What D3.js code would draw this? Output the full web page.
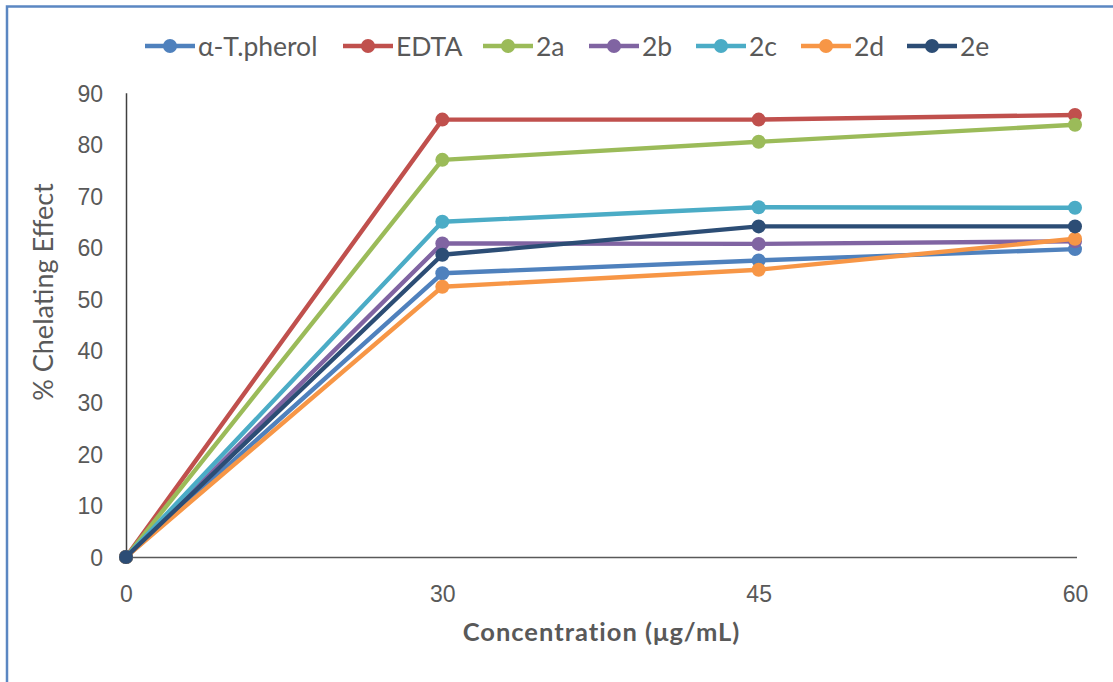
<!DOCTYPE html>
<html>
<head>
<meta charset="utf-8">
<script src="https://cdn.jsdelivr.net/npm/d3@7"></script>
<style>
  html, body { margin: 0; padding: 0; background: #fff; }
  svg { display: block; font-family: Lato, "Open Sans", sans-serif; }
</style>
</head>
<body>
<svg id="chart" width="1113" height="682"></svg>
<script>
// Concentration levels (µg/mL) on a categorical x axis
const concentrations = ["0", "30", "45", "60"];

// % chelating effect for each compound
const seriesNames = ["α-T.pherol", "EDTA", "2a", "2b", "2c", "2d", "2e"];
const alphaToco = [0, 55.0, 57.5, 59.7];
const edta      = [0, 84.8, 84.8, 85.7];
const c2a       = [0, 77.0, 80.5, 83.8];
const c2b       = [0, 60.8, 60.7, 61.2];
const c2c       = [0, 65.0, 67.8, 67.7];
const c2d       = [0, 52.4, 55.7, 61.7];
const c2e       = [0, 58.6, 64.1, 64.1];
const seriesValues = [alphaToco, edta, c2a, c2b, c2c, c2d, c2e];

const yTicks = [0, 10, 20, 30, 40, 50, 60, 70, 80, 90];
const colors = ["#4F81BD", "#C0504D", "#9BBB59", "#8064A2", "#4BACC6", "#F79646", "#2C4D75"];

const svg = d3.select("#chart");
const W = 1113, H = 682;

// outer frame
svg.append("rect")
  .attr("x", 7).attr("y", 6.5)
  .attr("width", W + 10).attr("height", H + 10)
  .attr("fill", "#fff")
  .attr("stroke", "#5B87C2").attr("stroke-width", 2.5);

const plotLeft = 126, plotRight = 1075, plotTop = 92.8, plotBottom = 557;

const x = d3.scalePoint().domain(concentrations).range([plotLeft, plotRight]).padding(0);
const y = d3.scaleLinear().domain([0, 90]).range([plotBottom, plotTop]);

// y axis
const yAxis = svg.append("g")
  .attr("transform", `translate(${plotLeft},0)`)
  .call(d3.axisLeft(y).tickValues(yTicks).tickSize(0).tickPadding(23));
yAxis.select(".domain").attr("stroke", "#404040").attr("stroke-width", 1.5);
yAxis.selectAll("text")
  .attr("fill", "#595959").attr("font-size", 23).attr("dy", "0.36em");

// x axis
const xAxis = svg.append("g")
  .attr("transform", `translate(0,${plotBottom})`)
  .call(d3.axisBottom(x).tickSize(0));
xAxis.select(".domain").attr("stroke", "#595959").attr("stroke-width", 1.5)
  .attr("d", `M${plotLeft},0.5H${plotRight + 2}`);
xAxis.selectAll("text")
  .attr("y", 37).attr("dy", "0.36em")
  .attr("fill", "#595959").attr("font-size", 23);

// axis titles
svg.append("text")
  .attr("x", (plotLeft + plotRight) / 2 + 1).attr("y", 632).attr("dy", "0.36em")
  .attr("text-anchor", "middle")
  .attr("font-size", 25.5).attr("font-weight", "bold")
  .attr("letter-spacing", 1)
  .attr("fill", "#595959")
  .text("Concentration (μg/mL)");

svg.append("text")
  .attr("transform", `translate(43,292) rotate(-90)`)
  .attr("dy", "0.36em")
  .attr("text-anchor", "middle")
  .attr("font-size", 27)
  .attr("fill", "#595959")
  .text("% Chelating Effect");

// series lines and markers
const line = d3.line()
  .x((d, i) => x(concentrations[i]))
  .y(d => y(d));

seriesValues.forEach((vals, s) => {
  const g = svg.append("g");
  g.append("path")
    .attr("d", line(vals))
    .attr("fill", "none")
    .attr("stroke", colors[s])
    .attr("stroke-width", 4.4)
    .attr("stroke-linejoin", "round");
  g.selectAll("circle")
    .data(vals)
    .join("circle")
    .attr("cx", (d, i) => x(concentrations[i]))
    .attr("cy", d => y(d))
    .attr("r", 7)
    .attr("fill", colors[s]);
});

// legend
const legendX = [145, 343, 483, 589, 696, 801, 907];
const legend = svg.append("g").attr("transform", "translate(0,46)");
seriesNames.forEach((name, s) => {
  const g = legend.append("g").attr("transform", `translate(${legendX[s]},0)`);
  g.append("line").attr("x1", 0).attr("x2", 50).attr("y1", 0).attr("y2", 0)
    .attr("stroke", colors[s]).attr("stroke-width", 4.4);
  g.append("circle").attr("cx", 25).attr("cy", 0).attr("r", 7).attr("fill", colors[s]);
  g.append("text").attr("x", 53).attr("y", 0).attr("dy", "0.36em")
    .attr("font-size", 26.5).attr("fill", "#595959").text(name);
});
</script>
</body>
</html>
